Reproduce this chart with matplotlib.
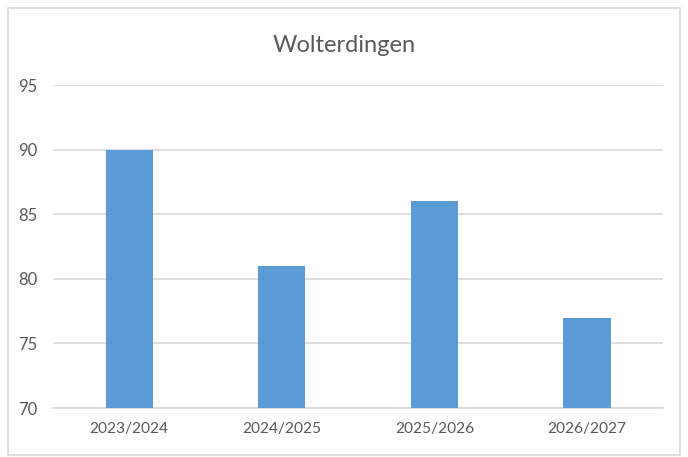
import matplotlib
matplotlib.use("Agg")
import matplotlib.pyplot as plt
from matplotlib.patches import Rectangle

# Data
categories = ["2023/2024", "2024/2025", "2025/2026", "2026/2027"]
values = [90, 81, 86, 77]
y_ticks = [70, 75, 80, 85, 90, 95]

plt.rcParams["font.family"] = ["Lato", "DejaVu Sans"]

fig = plt.figure(figsize=(6.88, 4.57), dpi=100, facecolor="white")
ax = fig.add_axes([0.077, 0.107, 0.887, 0.707])

x = range(len(categories))
ax.bar(x, values, width=0.31, color="#5B9BD5", zorder=3)

ax.set_xlim(-0.5, len(categories) - 0.5)
ax.set_ylim(70, 95)
ax.set_yticks(y_ticks)
ax.set_xticks(list(x))
ax.set_xticklabels(categories)

ax.grid(axis="y", color="#D9D9D9", linewidth=1.2, zorder=0)
for side in ("top", "right", "left"):
    ax.spines[side].set_visible(False)
ax.spines["bottom"].set_color("#D9D9D9")
ax.spines["bottom"].set_linewidth(1.2)
ax.tick_params(axis="both", length=0, colors="#595959")
ax.tick_params(axis="x", pad=10, labelsize=11.2)
ax.tick_params(axis="y", pad=11, labelsize=12)

fig.text(0.5, 0.9, "Wolterdingen", ha="center", va="center",
         fontsize=17, color="#595959")

# chart border
fig.patches.append(Rectangle((8 / 688, 2 / 457), 672 / 688, 447 / 457,
                             transform=fig.transFigure, fill=False,
                             edgecolor="#D9D9D9", linewidth=1.2))

fig.savefig("out.png", dpi=100, facecolor="white")
